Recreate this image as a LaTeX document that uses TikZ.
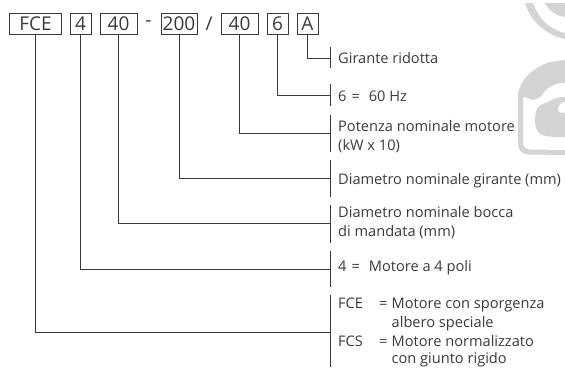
\documentclass[tikz,border=0pt]{standalone}
\usepackage{fontspec}
\setmainfont{Open Sans}
\definecolor{ink}{HTML}{3A3A3A}
\definecolor{wm}{HTML}{D4D4D4}
\tikzset{
  codebox/.style={draw=ink,line width=0.7pt,minimum height=21pt,inner sep=0pt,font=\fontsize{19}{19}\selectfont,text=ink},
  sep/.style={font=\fontsize{19}{19}\selectfont,text=ink,inner sep=0pt},
  desc/.style={anchor=west,inner sep=0pt,font=\fontsize{14.6}{19}\selectfont,text=ink,align=left},
  link/.style={draw=ink,line width=0.7pt},
  bar/.style={draw=ink,line width=0.7pt}
}
\begin{document}
\begin{tikzpicture}[x=1pt,y=-1pt]
\useasboundingbox (0,0) rectangle (565,367);
% watermark
\fill[wm] (525,3) .. controls (530,20) and (545,35) .. (565,39) -- (565,33) .. controls (550,30) and (538,18) .. (533,3) -- cycle;
\fill[wm] (545,3) .. controls (548,10) and (556,16) .. (565,17) -- (565,3) -- cycle;
\fill[wm] (565,60) -- (550,62) .. controls (540,65) and (526,74) .. (522,83) .. controls (519,88) and (518,92) .. (518,97)
  -- (518,143) .. controls (518,150) and (522,154) .. (528,154.5) -- (565,155) -- cycle;
\fill[white] (523,97) .. controls (528,97) and (530,101) .. (534,100) .. controls (541,99) and (543,93) .. (547,89)
  .. controls (552,85) and (558,83) .. (565,83) -- (565,150) -- (530,149.5) .. controls (526,149) and (523,147) .. (523,143) -- cycle;
\fill[wm] (565,97) .. controls (555,97) and (552,100) .. (548,102) .. controls (543,104) and (537,105) .. (536,112)
  .. controls (534,120) and (534,130) .. (542,135) .. controls (548,137) and (555,137) .. (565,137) -- cycle;
\fill[white] (565,102) .. controls (561,102) and (558,106) .. (558,110) .. controls (558,112) and (561,113) .. (565,113) -- cycle;
% code boxes
\node[codebox,minimum width=52pt] (fce) at (35.5,23.5) {FCE};
\node[codebox,minimum width=21pt] (four) at (80.5,23.5) {4};
\node[codebox,minimum width=37pt] (dn) at (118.5,23.5) {40};
\node[sep] (dash) at (148.5,24) {-};
\node[sep] (slash) at (209,23.5) {/};
\node[codebox,minimum width=36pt] (imp) at (179,23.5) {200};
\node[codebox,minimum width=37pt] (pow) at (239.5,23.5) {40};
\node[codebox,minimum width=21pt] (hz) at (277.5,23.5) {6};
\node[codebox,minimum width=21pt] (red) at (307.5,23.5) {A};
% bars
\coordinate (b1a) at (330,47); \coordinate (b1b) at (330,68);
\coordinate (b2a) at (330,84); \coordinate (b2b) at (330,106);
\coordinate (b3a) at (330,115); \coordinate (b3b) at (330,152);
\coordinate (b4a) at (330,160); \coordinate (b4b) at (330,197);
\coordinate (b5a) at (330,205); \coordinate (b5b) at (330,243);
\coordinate (b6a) at (330,251); \coordinate (b6b) at (330,287);
\coordinate (b7a) at (330,295); \coordinate (b7b) at (330,367);
\foreach \n in {1,...,7} \draw[bar] (b\n a) -- (b\n b);
% connectors
\coordinate (j1) at (330,58);
\coordinate (j2) at (330,95);
\coordinate (j3) at (330,133);
\coordinate (j4) at (330,178);
\coordinate (j5) at (330,223.5);
\coordinate (j6) at (330,269);
\coordinate (j7) at (330,332);
\draw[link] (red.south) |- (j1);
\draw[link] (hz.south) |- (j2);
\draw[link] (pow.south) |- (j3);
\draw[link] (imp.south) |- (j4);
\draw[link] (dn.south) |- (j5);
\draw[link] (four.south) |- (j6);
\draw[link] (fce.south) |- (j7);
% descriptions
\node[desc] (d1) at (338,58) {Girante ridotta};
\node[desc] (d2) at (338,96) {6\hspace{5pt}=\hspace{9pt}60 Hz};
\node[desc] (d3) at (338,137) {Potenza nominale motore\\(kW x 10)};
\node[desc] (d4) at (338,181) {Diametro nominale girante (mm)};
\node[desc] (d5) at (338,223) {Diametro nominale bocca\\di mandata (mm)};
\node[desc] (d6) at (338,268) {4\hspace{5pt}=\hspace{9pt}Motore a 4 poli};
\node[desc,anchor=base west] (d7a) at (338,308.5) {FCE};
\node[desc,anchor=base west] (d7b) at (338,346) {FCS};
\node[desc,anchor=base west] (e7a) at (379,308.5) {=};
\node[desc,anchor=base west] (e7b) at (379,346) {=};
\node[desc,anchor=base west] (d7c) at (391.5,308.5) {Motore con sporgenza};
\node[desc,anchor=base west] (d7c2) at (391.5,327) {albero speciale};
\node[desc,anchor=base west] (d7d) at (391.5,346) {Motore normalizzato};
\node[desc,anchor=base west] (d7d2) at (391.5,363) {con giunto rigido};
\end{tikzpicture}
\end{document}
